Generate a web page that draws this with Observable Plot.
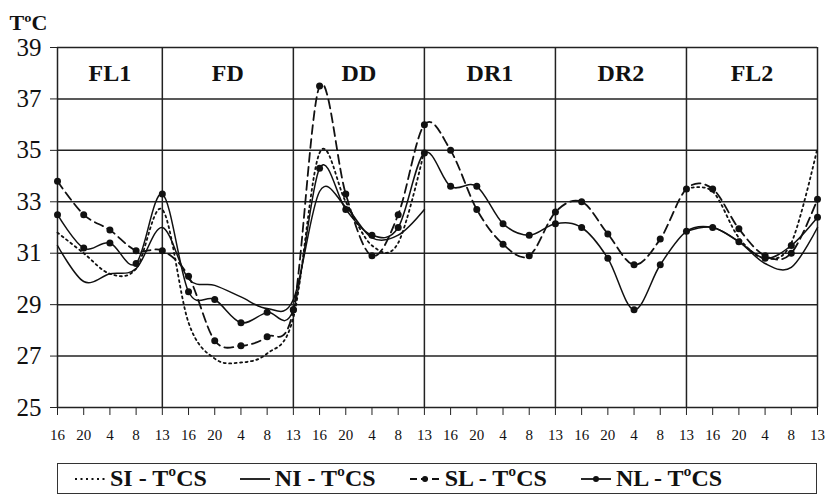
<!DOCTYPE html>
<html>
<head>
<meta charset="utf-8">
<script src="https://cdn.jsdelivr.net/npm/d3@7"></script>
<script src="https://cdn.jsdelivr.net/npm/@observablehq/plot@0.6"></script>
<style>
  html, body { margin: 0; padding: 0; background: #fff; }
  #chart { width: 829px; }
  .legend { position: absolute; left: 57px; top: 463px; width: 760px; height: 31px;
    border: 1.5px solid #333; box-sizing: border-box; display: flex; align-items: center;
    font-family: "Liberation Serif", serif; font-weight: bold; font-size: 24px; color: #111; }
  .legend .item { display: flex; align-items: center; }
  .legend svg { display: block; }
</style>
</head>
<body>
<div id="chart"></div>
<div class="legend" id="legend"></div>
<script>
// ---- data ----
const xLabels = [16,20,4,8,13, 16,20,4,8,13, 16,20,4,8,13, 16,20,4,8,13, 16,20,4,8,13, 16,20,4,8,13];
const periods = ["FL1","FD","DD","DR1","DR2","FL2"];
const periodBounds = [0,4,9,14,19,24,29];
const yTicks = [25,27,29,31,33,35,37,39];

const SI = [31.8,31.0,30.2,30.4,32.7, 28.3,26.9,26.75,27.1,28.5, 34.9,33.0,31.3,31.4,35.0,
            null,null,null,null,null,null,null,null,null, 33.5,33.4,31.6,30.8,31.4,35.1];
const NI = [31.3,29.9,30.2,30.4,32.0, 30.0,29.75,29.3,28.85,29.2, 33.4,32.8,31.6,31.7,32.7,
            null,null,null,null,null,null,null,null,null, 31.85,32.0,31.45,30.6,30.45,32.0];
const SL = [33.8,32.5,31.9,31.1,31.1, 30.1,27.6,27.4,27.75,28.8, 37.5,33.3,30.9,32.5,36.0,
            35.0,32.7,31.35,30.9,32.6, 33.0,31.75,30.55,31.55,33.5, 33.5,31.95,30.9,31.0,33.1];
const NL = [32.5,31.2,31.4,30.6,33.3, 29.5,29.2,28.3,28.7,28.8, 34.3,32.7,31.7,32.0,34.9,
            33.6,33.6,32.15,31.7,32.15, 32.0,30.8,28.8,30.55,31.85, 32.0,31.45,30.8,31.3,32.4];

const seriesNames = ["SI - TºCS","NI - TºCS","SL - TºCS","NL - TºCS"];

const toRows = arr => arr.map((v, i) => ({i, v}));
const periodRows = periods.map((p, k) => ({p, c: (periodBounds[k] + periodBounds[k+1]) / 2}));

const ink = "#111";
const font = "Liberation Serif, Times New Roman, serif";

const plot = Plot.plot({
  width: 829,
  height: 455,
  marginLeft: 57,
  marginRight: 12,
  marginTop: 47,
  marginBottom: 48,
  style: {fontFamily: font, color: ink, background: "#fff"},
  x: {domain: [0, 29], range: [57, 817]},
  y: {domain: [25, 39], range: [407, 47]},
  marks: [
    Plot.ruleY(yTicks, {stroke: "#222", strokeWidth: 1.5}),
    Plot.ruleX(periodBounds, {stroke: "#222", strokeWidth: 1.5}),
    Plot.axisY({ticks: yTicks, tickSize: 7, tickPadding: 9, fontSize: 25, label: null, stroke: "#222"}),
    Plot.axisX({ticks: d3.range(xLabels.length), tickFormat: i => xLabels[i], tickSize: 8, tickPadding: 14,
                fontSize: 15, label: null, stroke: "#222"}),
    Plot.text(periodRows, {x: "c", y: 38, text: "p", fontSize: 24, fontWeight: "bold", fill: ink}),
    Plot.text(["TºC"], {frameAnchor: "top-left", dx: -48, dy: -33, textAnchor: "start",
                        fontSize: 22, fontWeight: "bold", fill: ink}),
    Plot.line(toRows(SI), {x: "i", y: "v", curve: "cardinal", stroke: ink, strokeWidth: 1.8, strokeDasharray: "2,3.5"}),
    Plot.line(toRows(NI), {x: "i", y: "v", curve: "cardinal", stroke: ink, strokeWidth: 1.5}),
    Plot.line(toRows(SL), {x: "i", y: "v", curve: "cardinal", stroke: ink, strokeWidth: 1.8, strokeDasharray: "9,5"}),
    Plot.line(toRows(NL), {x: "i", y: "v", curve: "cardinal", stroke: ink, strokeWidth: 1.5}),
    Plot.dot(toRows(SL), {x: "i", y: "v", r: 3.5, fill: ink, stroke: "none"}),
    Plot.dot(toRows(NL), {x: "i", y: "v", r: 3.5, fill: ink, stroke: "none"})
  ]
});
document.getElementById("chart").appendChild(plot);

// legend
const legendStyles = [
  {dash: "2,3.5", dot: false},
  {dash: null, dot: false},
  {dash: "7,4", dot: true},
  {dash: null, dot: true}
];
const legend = document.getElementById("legend");
const gaps = [16, 32, 33, 33];
seriesNames.forEach((name, k) => {
  const item = document.createElement("div");
  item.className = "item";
  item.style.marginLeft = gaps[k] + "px";
  const st = legendStyles[k];
  item.innerHTML = `<svg width="32" height="12"><line x1="1" y1="6" x2="31" y2="6" stroke="${ink}" stroke-width="1.8" ${st.dash ? `stroke-dasharray="${st.dash}"` : ""}/>${st.dot ? `<circle cx="16" cy="6" r="3" fill="${ink}"/>` : ""}</svg><span style="margin-left:4px">${name}</span>`;
  legend.appendChild(item);
});
</script>
</body>
</html>
